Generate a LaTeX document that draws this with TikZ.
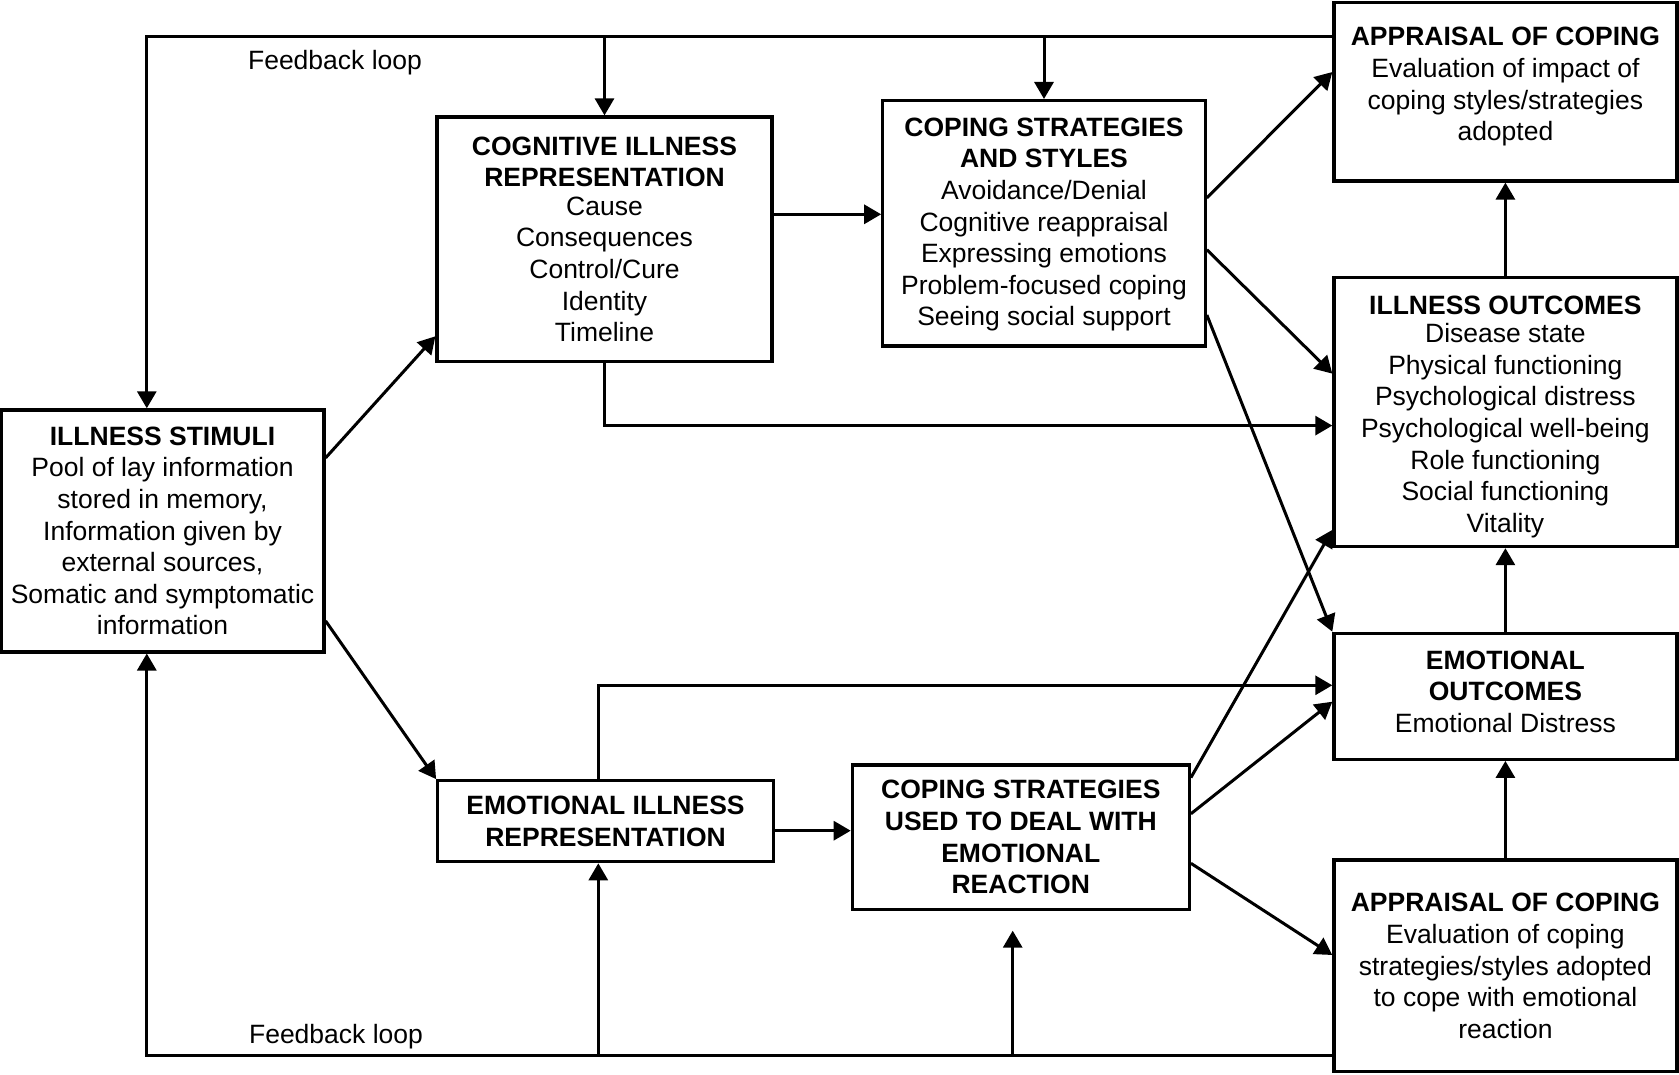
\documentclass[tikz,border=0pt]{standalone}
\usepackage{fontspec}
\setmainfont{Liberation Sans}
\usetikzlibrary{arrows.meta}

\begin{document}
\begin{tikzpicture}[x=1pt, y=-1pt,
  box/.style={draw, line width=3.2pt, align=center, inner sep=0pt,
    font=\fontsize{26.5}{31.6}\selectfont},
  arr/.style={line width=3pt, -{Triangle[length=17pt,width=19pt]}},
  lbl/.style={font=\fontsize{26.5}{31.6}\selectfont}]
\useasboundingbox (0,0) rectangle (1679,1075);

\node[box, minimum width=323pt, minimum height=242pt] (stimuli) at (162.5,530.9)
  {\textbf{ILLNESS STIMULI}\\Pool of lay information\\stored in memory,\\Information given by\\external sources,\\Somatic and symptomatic\\information};
\node[box, minimum width=335pt, minimum height=244.6pt] (cognitive) at (604.5,239.3)
  {\textbf{COGNITIVE ILLNESS}\\\textbf{REPRESENTATION}\\[-3pt]Cause\\Consequences\\Control/Cure\\Identity\\Timeline};
\node[box, minimum width=322.5pt, minimum height=245.4pt] (copingcog) at (1044,223.3)
  {\rule{0pt}{21pt}\textbf{COPING STRATEGIES}\\\textbf{AND STYLES}\\Avoidance/Denial\\Cognitive reappraisal\\Expressing emotions\\Problem-focused coping\\Seeing social support};
\node[box, minimum width=343pt, minimum height=178.3pt, text depth=15.6pt] (appraisaltop) at (1505.4,91.85)
  {\textbf{APPRAISAL OF COPING}\\Evaluation of impact of\\coping styles/strategies\\adopted};
\node[box, minimum width=343pt, minimum height=269.3pt] (outcomes) at (1505.4,411.9)
  {\rule{0pt}{28pt}\textbf{ILLNESS OUTCOMES}\\[-3pt]Disease state\\Physical functioning\\Psychological distress\\Psychological well-being\\Role functioning\\Social functioning\\Vitality};
\node[box, minimum width=343pt, minimum height=126pt, text depth=9.4pt] (emooutcomes) at (1505.4,696.3)
  {\textbf{EMOTIONAL}\\\textbf{OUTCOMES}\\Emotional Distress};
\node[box, minimum width=343pt, minimum height=211.7pt] (appraisalbot) at (1505.4,965.9)
  {\textbf{APPRAISAL OF COPING}\\Evaluation of coping\\strategies/styles adopted\\to cope with emotional\\reaction};
\node[box, minimum width=335.6pt, minimum height=81pt] (emorep) at (605.5,821.2)
  {\textbf{EMOTIONAL ILLNESS}\\\textbf{REPRESENTATION}};
\node[box, minimum width=337pt, minimum height=144.3pt] (copingemo) at (1020.8,837.2)
  {\textbf{COPING STRATEGIES}\\\textbf{USED TO DEAL WITH}\\\textbf{EMOTIONAL}\\\textbf{REACTION}};

\node[lbl] (fbtop) at (335,63) {Feedback loop};
\node[lbl] (fbbot) at (336,1037) {Feedback loop};

% feedback loops
\coordinate (topfb) at ([yshift=55pt]appraisaltop.west);
\coordinate (botfb) at ([yshift=-89.1pt]appraisalbot.west);
\draw[arr] (topfb) -| ([xshift=-15.7pt]stimuli.north);
\draw[arr] (topfb -| cognitive.north) -- (cognitive.north);
\draw[arr] (topfb -| copingcog.north) -- (copingcog.north);
\draw[arr] (botfb) -| ([xshift=-15.7pt]stimuli.south);
\draw[arr] ([xshift=-7.2pt]botfb -| emorep.south) -- ([xshift=-7.2pt]emorep.south);
\draw[arr] ([xshift=-8.1pt]botfb -| copingemo.south) -- ([xshift=-8.1pt,yshift=-19.7pt]copingemo.south);

\draw[arr] ([yshift=73pt]stimuli.east) -- ([yshift=-97pt]cognitive.west);
\draw[arr] ([yshift=-90pt]stimuli.east) -- (emorep.north west);
\draw[arr] ([yshift=25pt]cognitive.east) -- ([yshift=25pt]cognitive.east -| copingcog.west);
\draw[arr] (cognitive.south) |- ([yshift=-13.7pt]outcomes.west);
\draw[arr] ([yshift=25.3pt]copingcog.east) -- ([yshift=19.8pt]appraisaltop.west);
\draw[arr] ([yshift=-26.4pt]copingcog.east) -- ([yshift=38.3pt]outcomes.west);
\draw[arr] ([yshift=-91.7pt]copingcog.east) -- (emooutcomes.north west);
\draw[arr] (outcomes.north) -- (appraisaltop.south);
\draw[arr] (emooutcomes.north) -- (outcomes.south);
\draw[arr] (appraisalbot.north) -- (emooutcomes.south);
\draw[arr] ([xshift=-7.2pt]emorep.north) |- ([yshift=11pt]emooutcomes.west);
\draw[arr] ([yshift=-9.5pt]emorep.east) -- ([yshift=-9.5pt]emorep.east -| copingemo.west);
\draw[arr] ([yshift=59.6pt]copingemo.east) -- ([yshift=-118pt]outcomes.west);
\draw[arr] ([yshift=23.4pt]copingemo.east) -- ([yshift=-5.4pt]emooutcomes.west);
\draw[arr] ([yshift=-26.1pt]copingemo.east) -- ([yshift=10.9pt]appraisalbot.west);
\end{tikzpicture}
\end{document}
